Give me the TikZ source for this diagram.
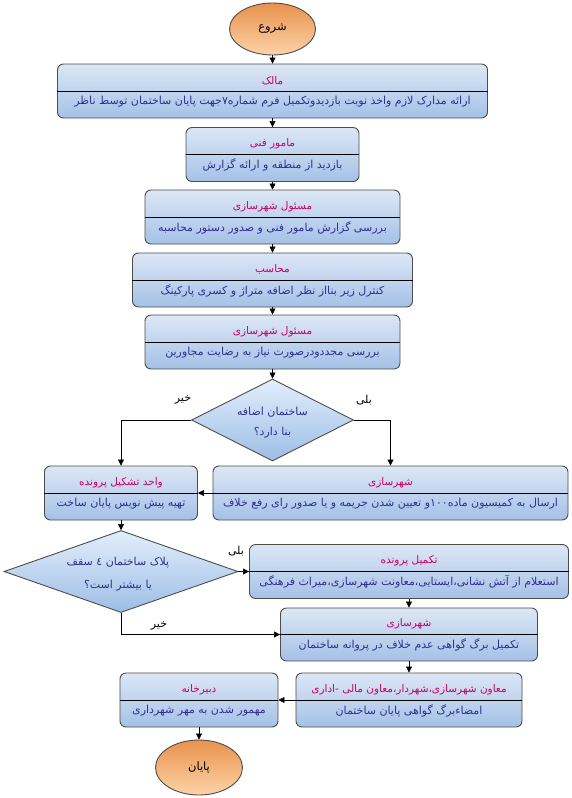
\documentclass[tikz,border=0pt]{standalone}
\usepackage{fontspec}
\newfontfamily\fa[Script=Arabic]{DejaVu Sans}
\TeXXeTstate=1
\usetikzlibrary{shapes.geometric,arrows.meta}
\definecolor{boxtop}{HTML}{DCE7F5}
\definecolor{boxbot}{HTML}{A5C1E7}
\definecolor{dectop}{HTML}{E2EFFB}
\definecolor{decbot}{HTML}{9DBDE6}
\definecolor{ovaltop}{HTML}{E8924C}
\definecolor{ovalbot}{HTML}{FDD3A8}
\definecolor{edgegray}{HTML}{4D4D4D}
\definecolor{titlered}{HTML}{CC0066}
\definecolor{bodyblue}{HTML}{303090}
\begin{document}
\begin{tikzpicture}[x=1pt, y=-1pt,
  stage/.style={draw=edgegray, line width=0.9pt, rounded corners=6pt, top color=boxtop, bottom color=boxbot, minimum height=54pt, inner sep=0pt},
  cond/.style={diamond, draw=edgegray, line width=0.9pt, top color=dectop, bottom color=decbot, inner sep=0pt},
  oval/.style={ellipse, draw=edgegray, line width=0.9pt, top color=ovaltop, bottom color=ovalbot, inner sep=0pt, font=\fa\fontsize{11.5}{13}\selectfont},
  ttl/.style={font=\fa\fontsize{10.5}{12}\selectfont, text=titlered, inner sep=0pt},
  txt/.style={font=\fa\fontsize{11}{13}\selectfont, text=bodyblue, inner sep=0pt},
  ans/.style={font=\fa\fontsize{11}{13}\selectfont, inner sep=0pt},
  flow/.style={-{Triangle[length=6pt,width=6pt]}, line width=0.6pt}]
  \useasboundingbox (0,0) rectangle (572,798);

  \node[oval, minimum width=86pt, minimum height=52pt] (start) at (272.5,29) {\beginR شروع\endR};

  \node[stage, minimum width=430pt] (mlk) at (272.5,91) {};
  \draw (mlk.west) -- (mlk.east);
  \node[ttl] (mlk-t) at (272.5,80.5) {\beginR مالک\endR};
  \node[txt] (mlk-b) at (272.5,101.5) {\beginR ارائه مدارک لازم واخذ نوبت بازدیدوتکمیل فرم شماره۷جهت پایان ساختمان توسط ناظر\endR};

  \node[stage, minimum width=173pt] (mmr) at (272.5,154.5) {};
  \draw (mmr.west) -- (mmr.east);
  \node[ttl] (mmr-t) at (272.5,144) {\beginR مامور فنی\endR};
  \node[txt] (mmr-b) at (272.5,165) {\beginR بازدید از منطقه و ارائه گزارش\endR};

  \node[stage, minimum width=255pt] (msl1) at (272.5,217) {};
  \draw (msl1.west) -- (msl1.east);
  \node[ttl] (msl1-t) at (272.5,206.5) {\beginR مسئول شهرسازی\endR};
  \node[txt] (msl1-b) at (272.5,227.5) {\beginR بررسی گزارش مامور فنی و صدور دستور محاسبه\endR};

  \node[stage, minimum width=280pt] (mhs) at (272.5,280) {};
  \draw (mhs.west) -- (mhs.east);
  \node[ttl] (mhs-t) at (272.5,269.5) {\beginR محاسب\endR};
  \node[txt] (mhs-b) at (272.5,290.5) {\beginR کنترل زیر بنااز نظر اضافه متراژ و کسری پارکینگ\endR};

  \node[stage, minimum width=255pt] (msl2) at (272.5,342) {};
  \draw (msl2.west) -- (msl2.east);
  \node[ttl] (msl2-t) at (272.5,331.5) {\beginR مسئول شهرسازی\endR};
  \node[txt] (msl2-b) at (272.5,352.5) {\beginR بررسی مجددودرصورت نیاز به رضایت مجاورین\endR};

  \node[cond, minimum width=162pt, minimum height=82pt] (dec1) at (272.5,420) {};
  \node[txt] (dec1-a) at (272.5,412) {\beginR ساختمان اضافه\endR};
  \node[txt] (dec1-b) at (272.5,433) {\beginR بنا دارد؟\endR};

  \node[stage, minimum width=153pt] (vhd) at (121,493) {};
  \draw (vhd.west) -- (vhd.east);
  \node[ttl] (vhd-t) at (121,482.5) {\beginR واحد تشکیل پرونده\endR};
  \node[txt] (vhd-b) at (121,503.5) {\beginR تهیه پیش نویس پایان ساخت\endR};

  \node[stage, minimum width=355pt] (shr1) at (390.5,493) {};
  \draw (shr1.west) -- (shr1.east);
  \node[ttl] (shr1-t) at (390.5,482.5) {\beginR شهرسازی\endR};
  \node[txt] (shr1-b) at (390.5,503.5) {\beginR ارسال به کمیسیون ماده\beginL۱۰۰\endL{}و تعیین شدن جریمه و یا صدور رای رفع خلاف\endR};

  \node[cond, minimum width=234pt, minimum height=82pt] (dec2) at (121,571.5) {};
  \node[txt] (dec2-a) at (118,563) {\beginR پلاک ساختمان ٤ سقف\endR};
  \node[txt] (dec2-b) at (118,586) {\beginR یا بیشتر است؟\endR};

  \node[stage, minimum width=319pt] (tkm) at (409,571.5) {};
  \draw (tkm.west) -- (tkm.east);
  \node[ttl] (tkm-t) at (409,561) {\beginR تکمیل پرونده\endR};
  \node[txt] (tkm-b) at (409,582) {\beginR استعلام از آتش نشانی،ایستایی،معاونت شهرسازی،میراث فرهنگی\endR};

  \node[stage, minimum width=257pt, minimum height=53pt] (shr2) at (409,634.5) {};
  \draw (shr2.west) -- (shr2.east);
  \node[ttl] (shr2-t) at (409,624) {\beginR شهرسازی\endR};
  \node[txt] (shr2-b) at (409,645) {\beginR تکمیل برگ گواهی عدم خلاف در پروانه ساختمان\endR};

  \node[stage, minimum width=226pt] (mvn) at (409,700) {};
  \draw (mvn.west) -- (mvn.east);
  \node[ttl] (mvn-t) at (409,689.5) {\beginR معاون شهرسازی،شهردار،معاون مالی -اداری\endR};
  \node[txt] (mvn-b) at (409,710.5) {\beginR امضاءبرگ گواهی پایان ساختمان\endR};

  \node[stage, minimum width=158pt] (dbr) at (199,700) {};
  \draw (dbr.west) -- (dbr.east);
  \node[ttl] (dbr-t) at (199,689.5) {\beginR دبیرخانه\endR};
  \node[txt] (dbr-b) at (199,710.5) {\beginR مهمور شدن به مهر شهرداری\endR};

  \node[oval, minimum width=87pt, minimum height=55pt] (end) at (199,767.5) {\beginR پایان\endR};

  \node[ans] (no1) at (183,400) {\beginR خیر\endR};
  \node[ans] (yes1) at (364,400) {\beginR بلی\endR};
  \node[ans] (yes2) at (236,551) {\beginR بلی\endR};
  \node[ans] (no2) at (159,626) {\beginR خیر\endR};

  \draw[flow] (start) -- (mlk);
  \draw[flow] (mlk) -- (mmr);
  \draw[flow] (mmr) -- (msl1);
  \draw[flow] (msl1) -- (mhs);
  \draw[flow] (mhs) -- (msl2);
  \draw[flow] (msl2) -- (dec1);
  \draw[flow] (dec1.west) -| (vhd.north);
  \draw[flow] (dec1.east) -| (shr1.north);
  \draw[flow] (shr1.west) -- (vhd.east);
  \draw[flow] (vhd) -- (dec2);
  \draw[flow] (dec2.east) -- (tkm.west);
  \draw[flow] (dec2.south) |- (shr2.west);
  \draw[flow] (tkm) -- (shr2);
  \draw[flow] (shr2) -- (mvn);
  \draw[flow] (mvn.west) -- (dbr.east);
  \draw[flow] (dbr) -- (end);
\end{tikzpicture}
\end{document}
